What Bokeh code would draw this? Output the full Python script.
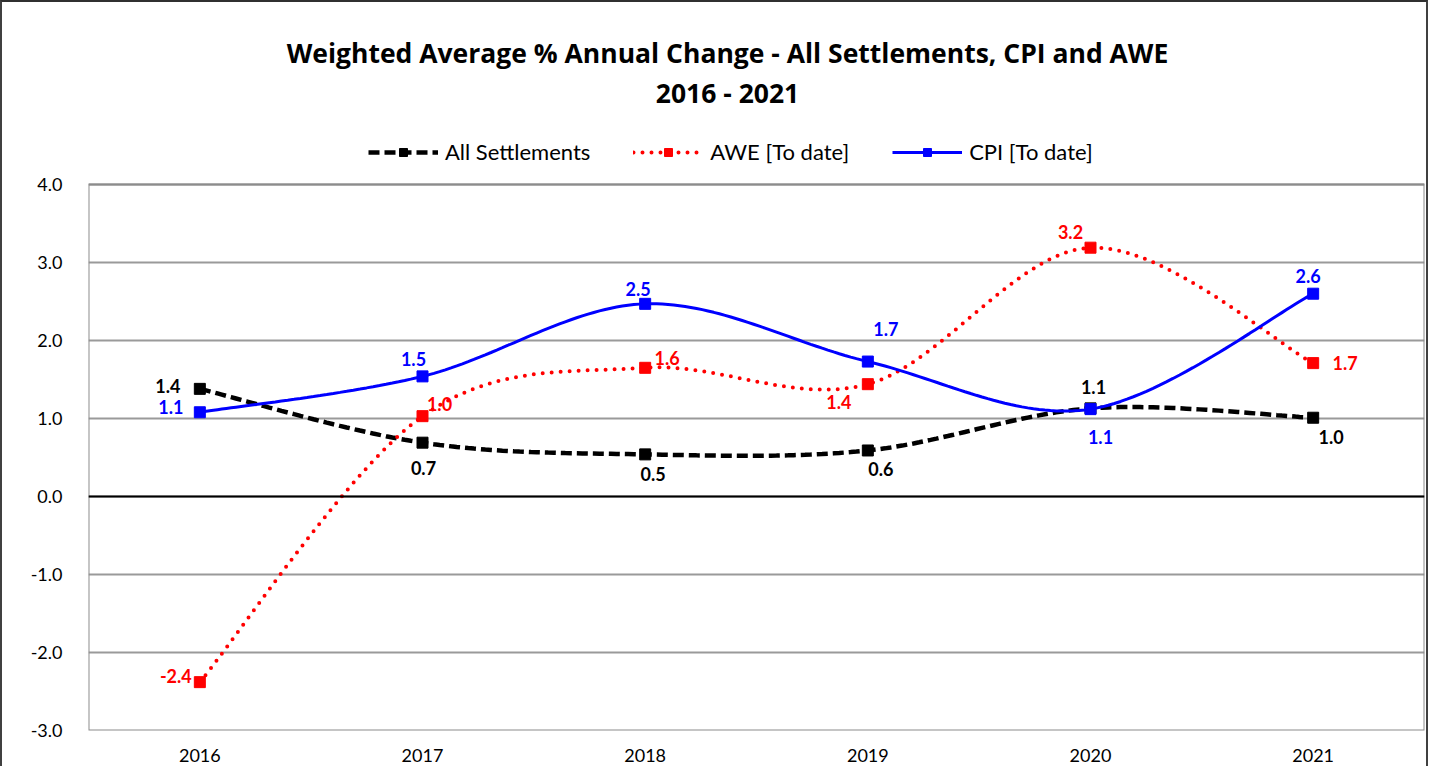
import numpy as np
from bokeh.plotting import figure
from bokeh.models import (Range1d, FixedTicker, Span, Label, Legend, LegendItem,
                          NumeralTickFormatter)
from bokeh.embed import file_html
from bokeh.resources import INLINE

# ---------------- data ----------------
years = ["2016", "2017", "2018", "2019", "2020", "2021"]
all_settlements = [1.38, 0.69, 0.54, 0.59, 1.13, 1.01]
awe = [-2.38, 1.03, 1.65, 1.44, 3.19, 1.71]
cpi = [1.08, 1.54, 2.47, 1.73, 1.12, 2.60]
y_ticks = [-3, -2, -1, 0, 1, 2, 3, 4]
y_min, y_max = -3, 4

title_line1 = "Weighted Average % Annual Change - All Settlements, CPI and AWE"
title_line2 = "2016 - 2021"
series_names = ["All Settlements", "AWE [To date]", "CPI [To date]"]

# label offsets (pixels, dx right, dy down) - style only
off_black = [(-32, -3), (1, 25), (8, 20), (13, 19), (3, -21), (18, 19)]
off_red = [(-24, -6), (17, -12), (22, -10), (-29, 18), (-20, -16), (32, 0)]
off_blue = [(-29, -5), (-9, -17), (-7, -15), (18, -33), (10, 28), (-5, -18)]

FONT = "Lato"
TITLE_FONT = "Open Sans"

# x positions in category units (centres of 6 equal bands)
xs = [i + 0.5 for i in range(len(years))]


def smooth(x, y, n=40):
    """Excel-like smoothed line (Catmull-Rom Bezier) through the points."""
    x = np.asarray(x, float)
    y = np.asarray(y, float)
    px = np.concatenate([[x[0]], x, [x[-1]]])
    py = np.concatenate([[y[0]], y, [y[-1]]])
    ox, oy = [], []
    for i in range(1, len(px) - 2):
        p0 = np.array([px[i - 1], py[i - 1]])
        p1 = np.array([px[i], py[i]])
        p2 = np.array([px[i + 1], py[i + 1]])
        p3 = np.array([px[i + 2], py[i + 2]])
        c1 = p1 + (p2 - p0) / 6.0
        c2 = p2 - (p3 - p1) / 6.0
        t = np.linspace(0, 1, n)
        if i > 1:
            t = t[1:]
        b = ((1 - t) ** 3)[:, None] * p1 + (3 * (1 - t) ** 2 * t)[:, None] * c1 \
            + (3 * (1 - t) * t ** 2)[:, None] * c2 + (t ** 3)[:, None] * p2
        ox.extend(b[:, 0])
        oy.extend(b[:, 1])
    return ox, oy


W, H = 1428, 766
BOTTOM = 38
FRAME_H = H - BOTTOM           # frame spans the whole height above the x axis
PLOT_H = 546                   # height of the -3..4 plotting box
y_top = y_min + (y_max - y_min) * FRAME_H / PLOT_H

p = figure(width=W, height=H, output_backend="svg", toolbar_location=None,
           x_range=Range1d(0, 6), y_range=Range1d(y_min, y_top),
           min_border_left=86, min_border_right=6, min_border_top=0,
           min_border_bottom=BOTTOM,
           styles={"border-left": "2px solid #404040",
                   "border-top": "2px solid #303030",
                   "border-right": "2px solid #404040"})
p.background_fill_color = "white"
p.border_fill_color = "white"
p.outline_line_color = None

# axes
p.xaxis.ticker = FixedTicker(ticks=xs)
p.xaxis.major_label_overrides = {x: y for x, y in zip(xs, years)}
p.yaxis.ticker = FixedTicker(ticks=y_ticks)
p.yaxis.formatter = NumeralTickFormatter(format="0.0")
for ax in (p.xaxis, p.yaxis):
    ax.axis_line_color = None
    ax.major_tick_line_color = None
    ax.minor_tick_line_color = None
    ax.major_label_text_font = FONT
    ax.major_label_text_font_size = "18px"
    ax.major_label_text_color = "black"
p.yaxis.major_label_standoff = 20
p.xaxis.major_label_standoff = 12

p.xgrid.grid_line_color = None
p.ygrid.ticker = FixedTicker(ticks=y_ticks)
p.ygrid.grid_line_color = "#9a9a9a"
p.ygrid.grid_line_width = 2

# plot-area box
p.quad(left=[0], right=[6], bottom=[y_min], top=[y_max], fill_color=None,
       line_color="#8c8c8c", line_width=2)
p.add_layout(Span(location=0, dimension="width", line_color="black", line_width=2))

# series
series = [
    (all_settlements, "black", dict(line_dash="11 5", line_width=4.5, line_cap="butt"), off_black),
    (awe, "#ff0000", dict(line_dash="0 9", line_width=4, line_cap="round"), off_red),
    (cpi, "#0000ff", dict(line_width=3), off_blue),
]
items = []
for (vals, col, style, offs), name in zip(series, series_names):
    sx, sy = smooth(xs, vals)
    r1 = p.line(sx, sy, line_color=col, **style)
    r2 = p.scatter(xs, vals, marker="square", size=11, fill_color=col, line_color=col)
    items.append(LegendItem(label=name, renderers=[r1, r2]))
    for x, v, (dx, dy) in zip(xs, vals, offs):
        p.add_layout(Label(x=x, y=v, text=f"{v:.1f}", x_offset=dx, y_offset=-dy,
                           text_align="center", text_baseline="middle",
                           text_font=FONT, text_font_size="18px",
                           text_font_style="bold", text_color=col))

legend = Legend(items=items, orientation="horizontal", location=(280, 565),
                glyph_width=70, glyph_height=20, label_standoff=7, spacing=43,
                padding=0, margin=0, border_line_alpha=0, background_fill_alpha=0,
                label_text_font=FONT, label_text_font_size="22px",
                label_text_color="black")
p.add_layout(legend, "center")

# two-line title (screen units from the frame's bottom-left)
for txt, ty in ((title_line1, 678), (title_line2, 638)):
    p.add_layout(Label(x=639, y=ty, x_units="screen", y_units="screen", text=txt,
                       text_align="center", text_baseline="middle",
                       text_font=TITLE_FONT, text_font_size="26.5px",
                       text_font_style="bold", text_color="black"))

open("out.html", "w").write(file_html(p, INLINE))
